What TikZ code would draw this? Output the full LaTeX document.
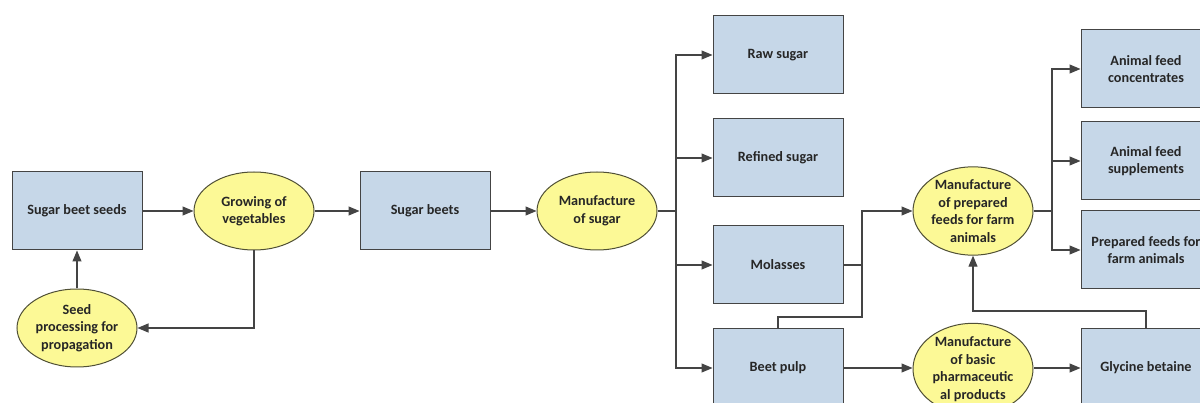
\documentclass[tikz,border=0pt]{standalone}
\usepackage{fontspec}
\setmainfont{Carlito}
\usetikzlibrary{shapes.geometric,arrows.meta}
\definecolor{boxblue}{RGB}{198,215,232}
\definecolor{ellyellow}{RGB}{252,249,150}
\definecolor{linegray}{RGB}{68,68,68}
\definecolor{txtgray}{RGB}{38,38,38}
\begin{document}
\begin{tikzpicture}[x=1pt, y=-1pt,
    prod/.style={rectangle, draw=linegray, fill=boxblue, line width=1pt,
              minimum width=130pt, minimum height=78pt, inner sep=2pt,
              align=center, text=txtgray, font=\fontsize{14.2}{17.5}\selectfont\bfseries},
    proc/.style={ellipse, draw=linegray!80!olive, fill=ellyellow, line width=1pt,
              minimum width=120pt, minimum height=78pt, inner sep=0pt,
              align=center, text=txtgray, font=\fontsize{14.2}{17.5}\selectfont\bfseries},
    link/.style={draw=linegray, line width=1.1pt},
    arr/.style={link, -{Triangle[length=11pt, width=9pt]}}]
    \clip (0,0) rectangle (1200,403);
    \fill[white] (0,0) rectangle (1200,403);
    % left part
    \node[prod] (seeds) at (77,211) {Sugar beet seeds};
    \node[proc] (grow) at (254,211) {Growing of\\vegetables};
    \node[proc] (seedproc) at (77,328) {Seed\\processing for\\propagation};
    \node[prod] (beets) at (425,211) {Sugar beets};
    \node[proc] (mfsugar) at (597,211) {Manufacture\\of sugar};
    % products of sugar manufacture
    \node[prod] (raw) at (778,55) {Raw sugar};
    \node[prod] (refined) at (778,158) {Refined sugar};
    \node[prod] (molasses) at (778,265) {Molasses};
    \node[prod] (pulp) at (778,368) {Beet pulp};
    % feeds and pharmaceuticals
    \node[proc] (mffeed) at (973,211) {Manufacture\\of prepared\\feeds for farm\\animals};
    \node[proc] (mfpharma) at (973,369) {Manufacture\\of basic\\pharmaceutic\\al products};
    \node[prod] (glycine) at (1146,368) {Glycine betaine};
    \node[prod] (conc) at (1146,69) {Animal feed\\concentrates};
    \node[prod] (suppl) at (1146,161) {Animal feed\\supplements};
    \node[prod] (prepfeeds) at (1146,250) {Prepared feeds for\\farm animals};
    % junctions
    \coordinate (j1) at (676,211);
    \coordinate (j2) at (862,317);
    \coordinate (j3) at (973,311);
    \coordinate (j4) at (1052,211);
    % connectors
    \draw[arr] (seeds) -- (grow);
    \draw[arr] (grow.south) |- (seedproc.east);
    \draw[arr] (seedproc.north) -- (seeds.south);
    \draw[arr] (grow) -- (beets);
    \draw[arr] (beets) -- (mfsugar);
    \draw[link] (mfsugar.east) -- (j1);
    \foreach \n in {raw,refined,molasses,pulp}
        \draw[arr] (j1) |- (\n.west);
    \draw[link] (molasses.east) -- (j2 |- molasses.east);
    \draw[arr] (pulp.north) |- (j2) |- (mffeed.west);
    \draw[arr] (pulp.east) -- (mfpharma.west |- pulp.east);
    \draw[arr] (mfpharma.east |- glycine.west) -- (glycine.west);
    \draw[arr] (glycine.north) |- (j3) -- (mffeed.south);
    \draw[link] (mffeed.east) -- (j4);
    \foreach \n in {conc,suppl,prepfeeds}
        \draw[arr] (j4) |- (\n.west);
\end{tikzpicture}
\end{document}
